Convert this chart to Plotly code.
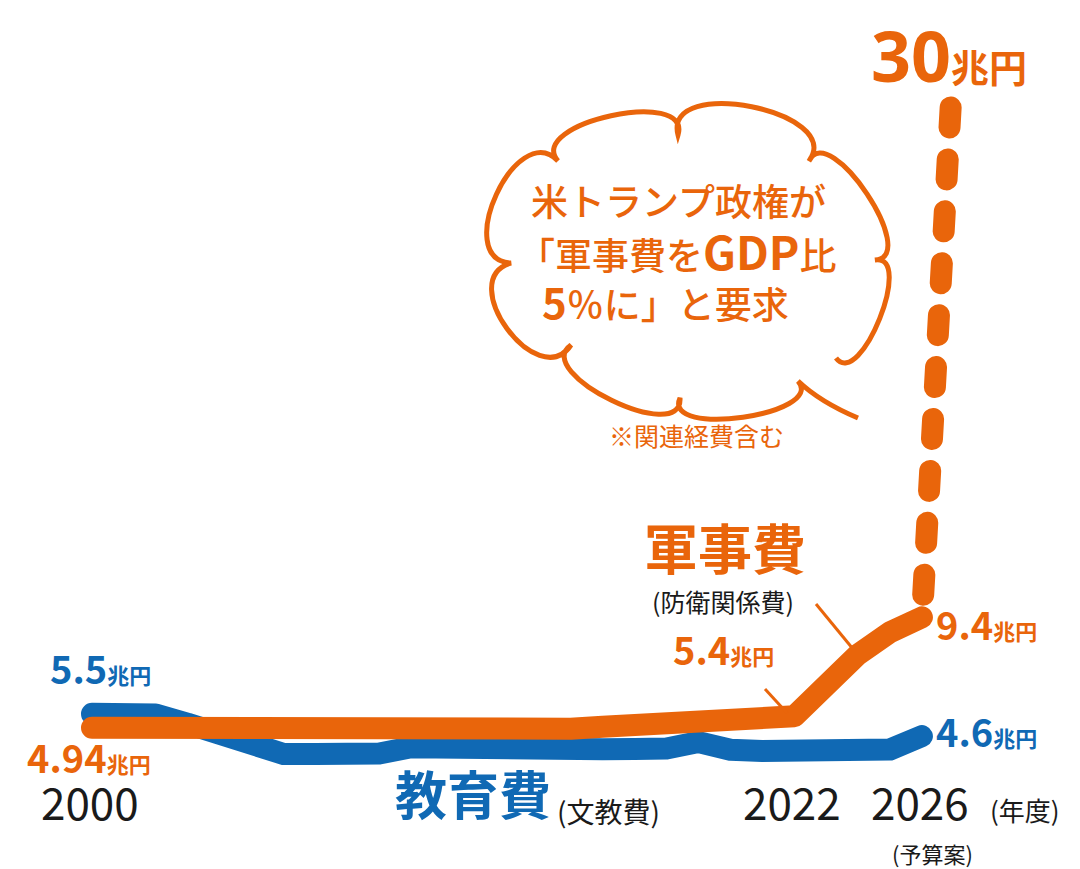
import plotly.graph_objects as go

W, H = 1080, 869
ORANGE = '#E9650B'
BLUE = '#1069B4'
INK = '#1a1a1a'
FONT = 'Noto Sans CJK JP'
LATIN = 'Noto Sans, Noto Sans CJK JP'

# 年度, 兆円
years = list(range(2000, 2027))
defense = [4.94, 4.93, 4.92, 4.91, 4.90, 4.88, 4.87, 4.85, 4.84, 4.82, 4.80, 4.78, 4.74, 4.76,
           4.83, 4.90, 4.98, 5.06, 5.12, 5.19, 5.27, 5.33, 5.40, 6.65, 7.90, 8.80, 9.40]
education = [5.50, 5.50, 5.47, 5.10, 4.75, 4.30, 3.88, 3.88, 3.88, 3.90, 4.15, 4.10, 4.05, 4.02,
             4.02, 4.05, 4.07, 4.08, 4.10, 4.36, 4.05, 4.00, 3.98, 3.98, 4.00, 4.06, 4.60]
# 米側の要求 (GDP比5%), drawn from the top down so the dashes start at 30兆円
target_years = [2026.9, 2026]
target_values = [30, 9.4]

tick_years = [2000, 2022, 2026]
tick_labels = ['2000', '2022', '2026']

# labelled values: (year, value, text, colour)
value_labels = [
    (2000, 5.50, '5.5', BLUE),
    (2000, 4.94, '4.94', ORANGE),
    (2022, 5.40, '5.4', ORANGE),
    (2026, 9.40, '9.4', ORANGE),
    (2026, 4.60, '4.6', BLUE),
]
# pixel offsets of each label (left edge / centre line) from its point
label_offsets = [(-44, 46), (-67, -29), (-123, 68), (12, -6), (12, 6)]


def px(x, y):
    return x / W, 1 - y / H


def note(text, x, y, size, color=INK, weight=400, xanchor='left', family=FONT, lift=0.26):
    # x: left edge (or centre) of the glyphs, y: middle of the glyphs, in pixels
    if xanchor == 'left':
        x -= 8
    px_x, px_y = px(x, y - lift * size)
    return dict(text=text, x=px_x, y=px_y, xref='paper', yref='paper', showarrow=False,
                xanchor=xanchor, yanchor='middle',
                font=dict(family=family, size=size, color=color, weight=weight))


def lobe(p0, p1, bulge, center=(665, 255)):
    mx, my = (p0[0] + p1[0]) / 2, (p0[1] + p1[1]) / 2
    dx, dy = p1[0] - p0[0], p1[1] - p0[1]
    length = (dx * dx + dy * dy) ** 0.5
    nx, ny = -dy / length, dx / length
    if nx * (mx - center[0]) + ny * (my - center[1]) < 0:
        nx, ny = -nx, -ny
    h = bulge / 0.75
    s = 0.2
    c1 = (p0[0] + nx * h - dx * s, p0[1] + ny * h - dy * s)
    c2 = (p1[0] + nx * h + dx * s, p1[1] + ny * h + dy * s)
    return [c1, c2, p1]


def cloud_path():
    def fmt(p):
        x, y = px(*p)
        return f'{x:.5f},{y:.5f}'

    start = (850, 410)
    tail_ctrl, tail_end = (812, 394), (790, 373)
    lobes = [((672, 390), 28), ((563, 337), 32), ((503, 255), 42), ((550, 153), 42),
             ((670, 127), 33), ((801, 153), 42), ((867, 252), 30), ((828, 350), 26)]
    d = f'M {fmt(start)} Q {fmt(tail_ctrl)} {fmt(tail_end)}'
    prev = tail_end
    for p, b in lobes:
        c1, c2, p1 = lobe(prev, p, b)
        d += f' C {fmt(c1)} {fmt(c2)} {fmt(p1)}'
        prev = p
    return d


fig = go.Figure()
fig.add_trace(go.Scatter(x=years, y=education, mode='lines', hoverinfo='skip',
                         line=dict(color=BLUE, width=22)))
fig.add_trace(go.Scatter(x=target_years, y=target_values, mode='lines', hoverinfo='skip',
                         line=dict(color=ORANGE, width=22, dash='20px,32px')))
fig.add_trace(go.Scatter(x=years, y=defense, mode='lines', hoverinfo='skip',
                         line=dict(color=ORANGE, width=22)))

annotations = []
for (yr, val, txt, col), (dx, dy) in zip(value_labels, label_offsets):
    annotations.append(dict(
        text=f"{txt}<span style='font-size:22px'>兆円</span>", x=yr, y=val, xref='x', yref='y',
        showarrow=False, xanchor='left', yanchor='middle', xshift=dx, yshift=dy,
        font=dict(family=FONT, size=38, color=col, weight=700)))

for yr, txt in zip(tick_years, tick_labels):
    annotations.append(dict(text=txt, x=yr, y=px(0, 804 - 0.26 * 44)[1], xref='x', yref='paper',
                            showarrow=False, xanchor='center', yanchor='middle', xshift=-2,
                            font=dict(family=FONT, size=44, color=INK)))

annotations += [
    note("30<span style='font-size:38px'>兆円</span>", 869, 54, 70, ORANGE, 700,
         family=LATIN, lift=0.1),
    note('米トランプ政権が', 529, 202, 37, ORANGE, 500),
    note("「軍事費を<b><span style='font-size:46px'>GDP</span></b>比", 516, 252, 37, ORANGE, 500),
    note("<b><span style='font-size:42px'>5</span></b>％に」と要求", 540, 302, 37, ORANGE, 500),
    note('※関連経費含む', 688, 433, 25, ORANGE, 400, 'center'),
    note('軍事費', 642, 553, 54, ORANGE, 700),
    note('(防衛関係費)', 650, 599, 25),
    note('教育費', 393, 798, 52, BLUE, 700),
    note('(文教費)', 555, 810, 28),
    note('(予算案)', 924, 851, 22, INK, 400, 'center'),
    note('(年度)', 988, 808, 26),
]

shapes = [
    dict(type='path', path=cloud_path(), xref='paper', yref='paper',
         line=dict(color=ORANGE, width=5)),
]
for (x0, y0), (x1, y1) in [((808, 596), (845, 641)), ((757, 681), (779, 705))]:
    a, b = px(x0, y0)
    c, d = px(x1, y1)
    shapes.append(dict(type='line', x0=a, y0=b, x1=c, y1=d, xref='paper', yref='paper',
                       line=dict(color=ORANGE, width=3)))

fig.update_layout(
    width=W, height=H,
    margin=dict(l=0, r=0, t=0, b=0),
    paper_bgcolor='white', plot_bgcolor='white',
    showlegend=False,
    xaxis=dict(range=[1997.368, 2031.203], visible=False, fixedrange=True),
    yaxis=dict(range=[-1.091, 34.02], visible=False, fixedrange=True),
    annotations=annotations,
    shapes=shapes,
)

round_caps = """
document.querySelectorAll('.scatterlayer path.js-line').forEach(function (p) {
    p.style.strokeLinecap = 'round';
    p.style.strokeLinejoin = 'round';
});
"""

fig.write_html('out.html', post_script=round_caps, config={'displayModeBar': False})
